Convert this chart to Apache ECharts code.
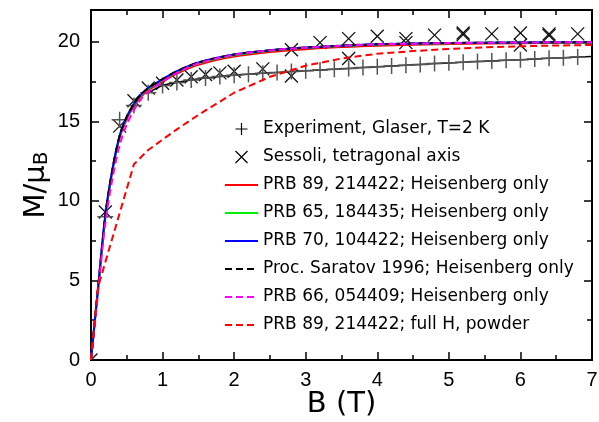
<!DOCTYPE html>
<html><head><meta charset="utf-8">
<script src="https://cdn.jsdelivr.net/npm/echarts@6/dist/echarts.min.js"></script>
<style>html,body{margin:0;padding:0;background:#fff}#c{width:599px;height:422px}</style>
</head><body><div id="c"></div>
<script>
// ---- data ----
const xTickLabels = [0, 1, 2, 3, 4, 5, 6, 7];
const yTickLabels = [0, 5, 10, 15, 20];

const legendNames = [
  'Experiment, Glaser, T=2 K',
  'Sessoli, tetragonal axis',
  'PRB 89, 214422; Heisenberg only',
  'PRB 65, 184435; Heisenberg only',
  'PRB 70, 104422; Heisenberg only',
  'Proc. Saratov 1996; Heisenberg only',
  'PRB 66, 054409; Heisenberg only',
  'PRB 89, 214422; full H, powder'
];

// Experiment (Glaser) markers
const expB = [0.2,0.4,0.6,0.8,1.0,1.2,1.4,1.6,1.8,2.0,2.2,2.4,2.6,2.8,3.0,3.2,3.4,3.6,3.8,4.0,4.2,4.4,4.6,4.8,5.0,5.2,5.4,5.6,5.8,6.0,6.2,6.4,6.6,6.8];
const expM = [9.0,15.1,16.0,16.8,17.25,17.45,17.6,17.72,17.82,17.9,17.96,18.02,18.07,18.13,18.18,18.23,18.28,18.33,18.38,18.43,18.48,18.53,18.58,18.63,18.68,18.72,18.76,18.8,18.84,18.88,18.92,18.96,19.0,19.04];
// Experiment continuous curve
const expLineB = [0.8,1.0,1.2,1.4,1.6,1.8,2.0,2.4,2.8,3.2,3.6,4.0,4.4,4.8,5.2,5.6,6.0,6.4,6.8,7.0];
const expLineM = [16.8,17.25,17.45,17.6,17.72,17.82,17.9,18.02,18.13,18.23,18.33,18.43,18.53,18.63,18.72,18.8,18.88,18.96,19.04,19.08];

// Sessoli, tetragonal axis
const sesB = [0,0.2,0.4,0.6,0.8,1.0,1.2,1.4,1.6,1.8,2.0,2.4,2.8,2.8,3.2,3.6,3.6,4.0,4.4,4.4,4.8,5.2,5.2,5.6,6.0,6.0,6.4,6.4,6.8];
const sesM = [0,9.3,14.7,16.3,17.1,17.4,17.6,17.8,17.95,18.05,18.15,18.3,19.5,17.85,19.95,20.2,18.95,20.35,20.2,19.95,20.42,20.55,20.45,20.5,20.55,19.8,20.5,20.4,20.5];

// Theory curves
const bTheory   = [0,0.1,0.2,0.3,0.4,0.5,0.6,0.7,0.8,1.0,1.2,1.5,2.0,2.5,3.0,3.5,4.0,5.0,6.0,7.0];
const prb89     = [0,4.5,9.0,11.9,13.95,15.15,15.95,16.55,16.95,17.5,18.0,18.55,19.07,19.36,19.54,19.67,19.76,19.86,19.91,19.94];
const prb65     = [0,4.55,9.05,11.95,14.05,15.25,16.05,16.65,17.05,17.6,18.1,18.65,19.16,19.44,19.62,19.74,19.83,19.91,19.95,19.96];
const prb70     = [0,4.6,9.1,12.0,14.1,15.3,16.1,16.7,17.1,17.65,18.15,18.7,19.2,19.47,19.64,19.76,19.85,19.93,19.96,19.97];
const saratov   = [0,4.6,9.1,12.0,14.1,15.3,16.1,16.7,17.1,17.65,18.15,18.7,19.2,19.47,19.64,19.76,19.85,19.93,19.96,19.97];
const prb66     = [0,4.3,8.6,11.4,13.5,14.8,15.7,16.4,16.85,17.5,18.05,18.65,19.18,19.46,19.63,19.75,19.84,19.92,19.96,19.97];
const powderB   = [0,0.1,0.6,0.8,1.0,1.2,1.5,2.0,2.5,3.0,3.5,4.0,4.5,5.0,5.5,6.0,6.5,7.0];
const powderM   = [0,4.6,12.3,13.2,13.85,14.5,15.4,16.8,17.8,18.5,18.95,19.25,19.42,19.55,19.65,19.72,19.77,19.8];

// ---- chart ----
const pair = (xs, ys) => xs.map((x, i) => [x, ys[i]]);
const TICKF = 'Liberation Sans';
const TXTF = 'DejaVu Sans';
const PLUS = 'path://M0,-1L0,1M-1,0L1,0';
const CROSS = 'path://M-1,-1L1,1M-1,1L1,-1';

function mkX(pos, interval, len, labels, extra) {
  return Object.assign({
    type: 'value', min: 0, max: 7, interval: interval, position: pos,
    axisLine: { show: false, onZero: false },
    axisTick: { show: true, inside: true, length: len, lineStyle: { color: '#000', width: 1.5 } },
    axisLabel: labels ? {
      show: true, fontFamily: TICKF, fontSize: 20, color: '#000', margin: 10,
      formatter: v => xTickLabels.includes(v) ? String(v) : ''
    } : { show: false },
    splitLine: { show: false }
  }, extra || {});
}
function mkY(pos, interval, len, labels, extra) {
  return Object.assign({
    type: 'value', min: 0, max: 22, interval: interval, position: pos,
    axisLine: { show: false, onZero: false },
    axisTick: { show: true, inside: true, length: len, lineStyle: { color: '#000', width: 1.5 } },
    axisLabel: labels ? {
      show: true, fontFamily: TICKF, fontSize: 20, color: '#000', margin: 11,
      formatter: v => yTickLabels.includes(v) ? String(v) : ''
    } : { show: false },
    splitLine: { show: false }
  }, extra || {});
}

const lineSeries = (name, xs, ys, color, dashed) => ({
  type: 'line', name: name, data: pair(xs, ys), showSymbol: false, symbol: 'none',
  smooth: dashed === 'poly' ? false : 0.3, clip: true,
  lineStyle: { color: color, width: 2, type: dashed ? [7, 4] : 'solid' },
  itemStyle: { color: color }, z: 3
});

const markerIconStyle = { color: 'transparent', borderColor: '#000', borderWidth: 1.2, opacity: 1 };

const chart = echarts.init(document.getElementById('c'), null, { renderer: 'canvas' });
chart.setOption({
  animation: false,
  backgroundColor: '#fff',
  grid: { left: 91, right: 7, top: 10, bottom: 62, outerBoundsMode: 'none', containLabel: false,
          show: true, borderColor: '#000', borderWidth: 2, backgroundColor: 'transparent' },
  xAxis: [
    mkX('bottom', 1, 8, true, {
      name: 'B (T)', nameLocation: 'middle', nameGap: 30, nameMoveOverlap: false,
      nameTextStyle: { fontFamily: TXTF, fontSize: 29, color: '#000' }
    }),
    mkX('bottom', 0.5, 5, false),
    mkX('top', 1, 8, false),
    mkX('top', 0.5, 5, false)
  ],
  yAxis: [
    mkY('left', 5, 8, true, {
      name: '{a|M/μ}{b|B}', nameLocation: 'middle', nameGap: 39, nameRotate: 90, nameMoveOverlap: false,
      nameTextStyle: {
        color: '#000',
        rich: {
          a: { fontFamily: TXTF, fontSize: 29, lineHeight: 32, color: '#000' },
          b: { fontFamily: TXTF, fontSize: 20, lineHeight: 22, verticalAlign: 'bottom', color: '#000' }
        }
      }
    }),
    mkY('left', 2.5, 5, false),
    mkY('right', 5, 8, false),
    mkY('right', 2.5, 5, false)
  ],
  legend: {
    orient: 'vertical', left: 224, top: 119, padding: 0,
    itemWidth: 33, itemHeight: 12, itemGap: 8, selectedMode: false,
    itemStyle: { opacity: 0 },
    textStyle: { fontFamily: TXTF, fontSize: 17, color: '#000', lineHeight: 20 },
    data: [
      { name: legendNames[0], icon: PLUS, itemStyle: markerIconStyle },
      { name: legendNames[1], icon: CROSS, itemStyle: markerIconStyle },
      legendNames[2], legendNames[3], legendNames[4], legendNames[5], legendNames[6], legendNames[7]
    ]
  },
  series: [
    {
      type: 'scatter', name: legendNames[0], data: pair(expB, expM),
      symbol: PLUS, symbolSize: 16,
      itemStyle: { color: 'transparent', borderColor: '#555', borderWidth: 1.5, opacity: 1 }, z: 2
    },
    {
      type: 'line', name: legendNames[0], data: pair(expLineB, expLineM), showSymbol: false, symbol: 'none',
      smooth: 0.2, lineStyle: { color: '#000', width: 1.5 }, itemStyle: { color: '#000' }, z: 2
    },
    {
      type: 'custom', name: legendNames[1], data: pair(sesB, sesM), clip: true, z: 2,
      encode: { x: 0, y: 1 },
      renderItem: (params, api) => {
        const p = api.coord([api.value(0), api.value(1)]);
        const s = 6.5;
        const st = { stroke: '#111', lineWidth: 1.3 };
        return { type: 'group', children: [
          { type: 'line', shape: { x1: p[0] - s, y1: p[1] - s, x2: p[0] + s, y2: p[1] + s }, style: st },
          { type: 'line', shape: { x1: p[0] - s, y1: p[1] + s, x2: p[0] + s, y2: p[1] - s }, style: st }
        ] };
      }
    },
    lineSeries(legendNames[2], bTheory, prb89, '#ff0000', false),
    lineSeries(legendNames[3], bTheory, prb65, '#00ee00', false),
    lineSeries(legendNames[4], bTheory, prb70, '#0000ff', false),
    lineSeries(legendNames[5], bTheory, saratov, '#000000', true),
    lineSeries(legendNames[6], bTheory, prb66, '#ff00ff', true),
    lineSeries(legendNames[7], powderB, powderM, '#ff0000', 'poly')
  ]
});
</script></body></html>
